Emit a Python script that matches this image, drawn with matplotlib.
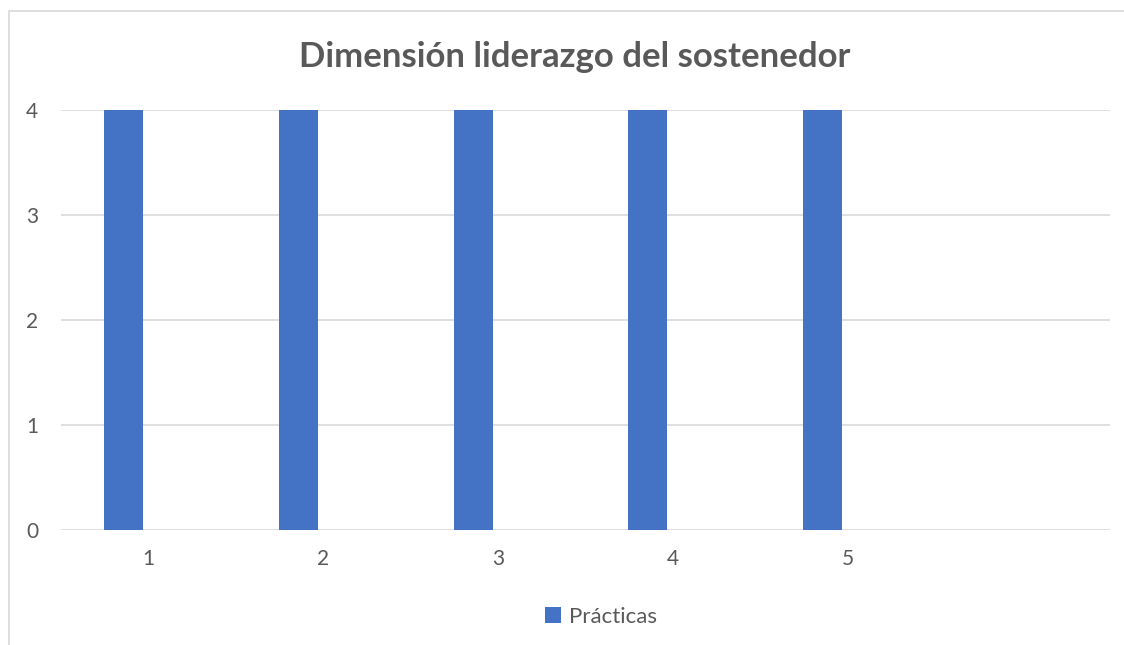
import matplotlib.pyplot as plt
from matplotlib.patches import Rectangle
import numpy as np

categories = ["1", "2", "3", "4", "5", ""]
practicas = [4, 4, 4, 4, 4, 0]
y_ticks = [0, 1, 2, 3, 4]

plt.rcParams["font.family"] = ["Lato", "DejaVu Sans"]

W, H = 1124, 645
fig = plt.figure(figsize=(W / 100, H / 100), dpi=100)
ax = fig.add_axes([61 / W, 1 - 530 / H, (1110 - 61) / W, (530 - 110) / H])

x = np.arange(len(categories))
ax.bar(x - 0.143, practicas, width=0.223, color="#4472c4", label="Prácticas", zorder=3)

ax.set_xlim(-0.5, len(categories) - 0.5)
ax.set_ylim(0, 4)
ax.set_yticks(y_ticks)
ax.set_xticks(x)
ax.set_xticklabels(categories)
ax.yaxis.grid(True, color="#d9d9d9", linewidth=1.2, zorder=0)
for s in ax.spines.values():
    s.set_visible(False)
ax.tick_params(axis="both", length=0, labelsize=15, colors="#595959")
ax.tick_params(axis="y", pad=16.5)
ax.tick_params(axis="x", pad=14)

fig.text(575 / W, 1 - 57 / H, "Dimensión liderazgo del sostenedor", ha="center", va="center",
         fontsize=25, fontweight="bold", color="#595959")

leg = fig.legend(loc="center", bbox_to_anchor=(601 / W, 1 - 617 / H), frameon=False,
                 fontsize=16, handlelength=0.75, handleheight=0.75, handletextpad=0.35)
for t in leg.get_texts():
    t.set_color("#595959")

fig.patches.append(Rectangle((9 / W, -0.01), 1.1, 1 - 11 / H + 0.01, transform=fig.transFigure,
                             fill=False, edgecolor="#d9d9d9", linewidth=1.2))

fig.savefig("out.png", dpi=100)
